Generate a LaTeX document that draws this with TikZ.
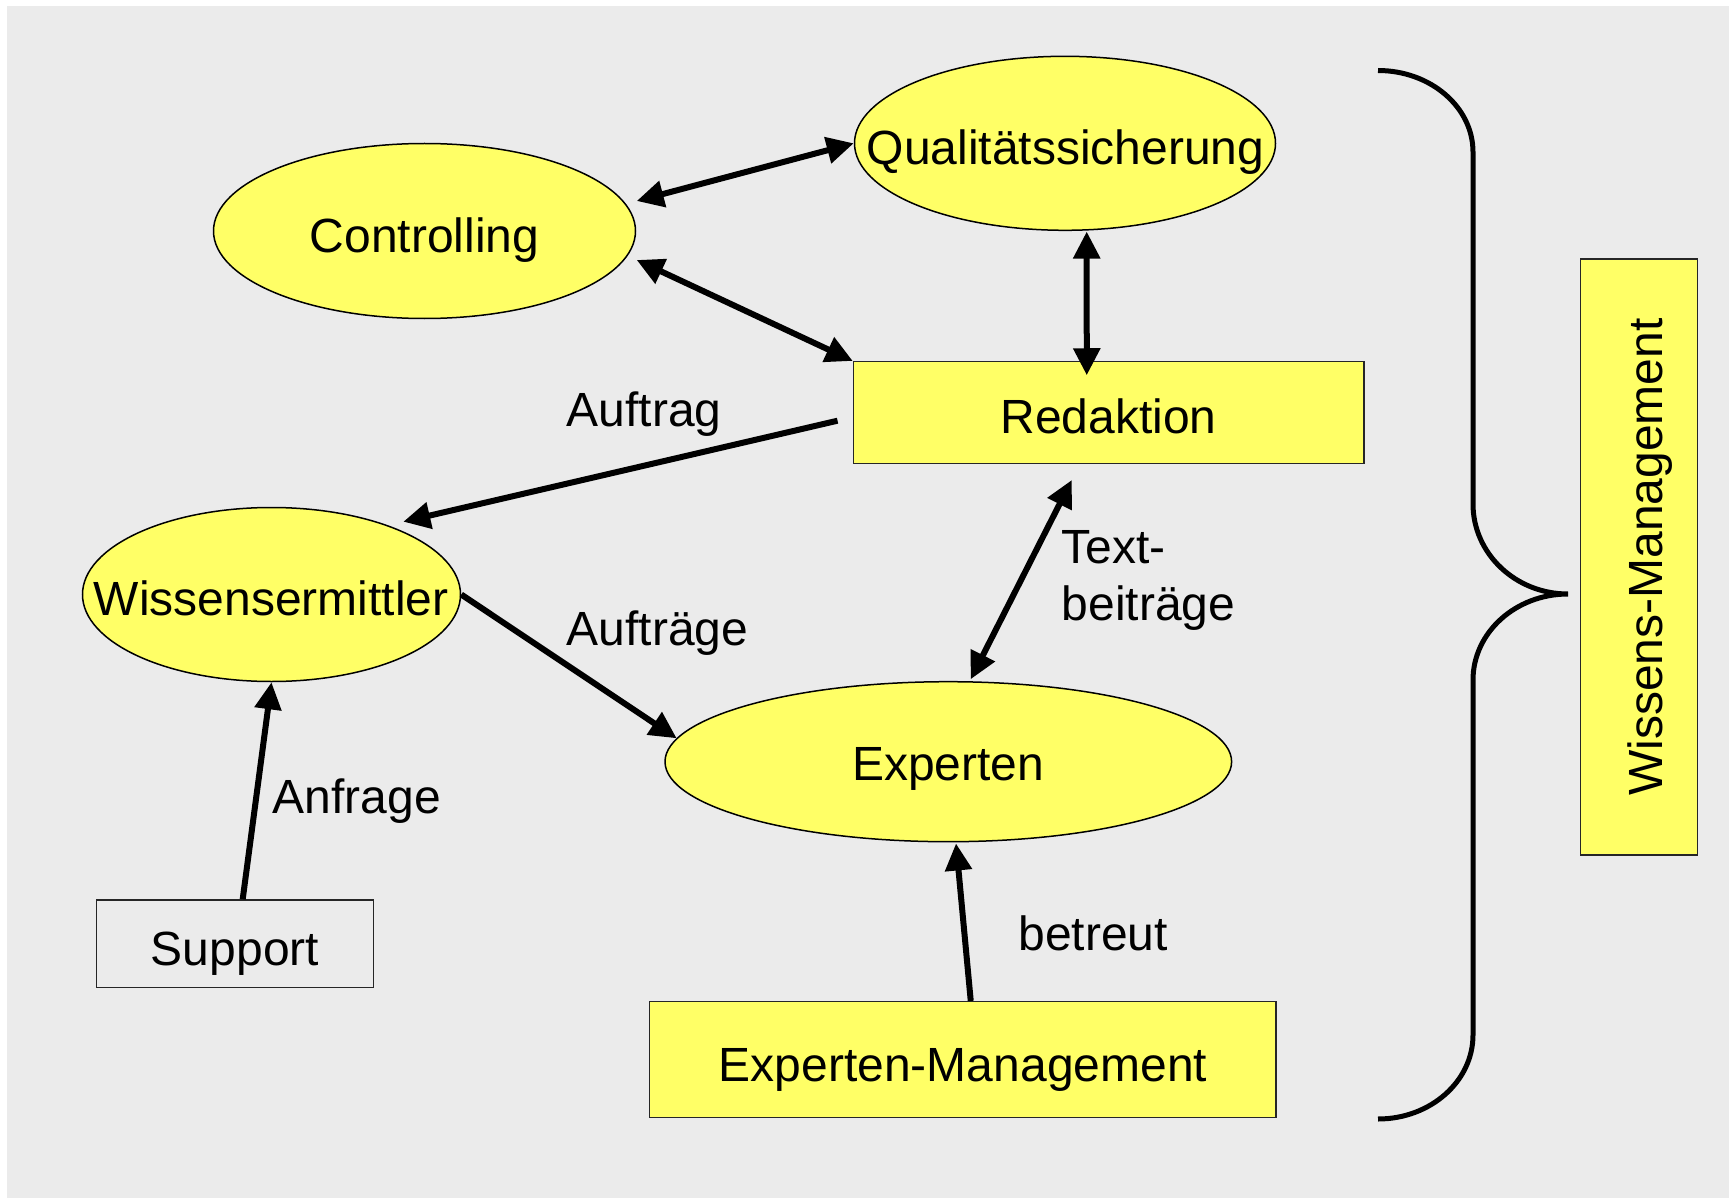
\documentclass[tikz,border=0pt]{standalone}
\usepackage{fontspec}
\setmainfont{Liberation Sans}
\usetikzlibrary{arrows.meta,calc,shapes.geometric}
\definecolor{bgc}{HTML}{EBEBEB}
\definecolor{yel}{HTML}{FFFF66}
\begin{document}
\begin{tikzpicture}[x=1pt,y=-1pt,
  ell/.style={ellipse, draw=black, line width=1.5pt, fill=yel, inner sep=0pt},
  box/.style={rectangle, draw=black!85, line width=1.5pt, fill=yel, inner sep=0pt},
  txt/.style={font=\fontsize{48}{57.7}\selectfont, inner sep=0pt, anchor=base},
  lbl/.style={txt, anchor=base west},
  arr/.style={line width=6pt, -{Triangle[length=27pt,width=26pt]}},
  darr/.style={line width=6pt, {Triangle[length=27pt,width=26pt]}-{Triangle[length=27pt,width=26pt]}},
  bracestyle/.style={line width=5pt}]

\useasboundingbox (0,0) rectangle (1729,1198);
\fill[white] (0,0) rectangle (1729,1198);
\fill[bgc] (7,6) rectangle (1729,1198);

% shapes
\node[ell, minimum width=422pt, minimum height=175pt] (c) at (424.5,231) {};
\node[ell, minimum width=421pt, minimum height=174pt] (q) at (1065,143.3) {};
\node[box, minimum width=510.5pt, minimum height=101.6pt] (r) at (1108.75,412.5) {};
\node[ell, minimum width=378pt, minimum height=174pt] (w) at (271.5,594.5) {};
\node[ell, minimum width=566.6pt, minimum height=160pt] (e) at (948.3,761.7) {};
\node[box, fill=bgc, minimum width=276.6pt, minimum height=87.3pt] (s) at (235,943.6) {};
\node[box, minimum width=626.5pt, minimum height=116pt] (em) at (962.75,1059.7) {};
\node[box, minimum width=117pt, minimum height=596pt] (wm) at (1639.2,557) {};

% texts in shapes
\node[txt] (tc) at (424.5,253) {Controlling};
\node[txt] (tq) at (1065.5,164.5) {Qualitätssicherung};
\node[txt] (tr) at (1108.5,433) {Redaktion};
\node[txt] (tw) at (271.3,615) {Wissensermittler};
\node[txt] (te) at (948.3,780.7) {Experten};
\node[txt] (ts) at (235,965) {Support};
\node[txt] (tem) at (963,1081.7) {Experten-Management};
\node[txt, rotate=90] (twm) at (1662,557) {Wissens-Management};

% connector labels
\node[lbl] (l1) at (566.7,426.7) {Auftrag};
\node[lbl] (l2) at (566.7,645) {Aufträge};
\node[lbl] (l3) at (272.7,813.3) {Anfrage};
\node[lbl] (l4) at (1061.7,563) {Text-};
\node[lbl] (l5) at (1061.7,620.7) {beiträge};
\node[lbl] (l6) at (1018.3,950) {betreut};

% connectors
\draw[darr] ($(c)+(212.2,-30)$) -- (q.west);
\draw[darr] ($(c)+(212.2,29)$) -- (r.north west);
\draw[darr] ($(q.south)+(21.7,0.5)$) -- ($(r.north)+(-22,14.3)$);
\draw[arr] ($(r.west)+(-15.2,8.2)$) -- ($(w)+(131.8,-72.8)$);
\draw[arr] (w.east) -- ($(e)+(-271.6,-23.4)$);
\draw[darr] ($(e.north)+(22.4,-1.7)$) -- ($(r.south)+(-37,16)$);
\draw[arr] ($(s.north)+(7.7,0)$) -- (w.south);
\draw[arr] ($(em.north)+(8,0)$) -- ($(e.south)+(7.7,1)$);

% brace
\draw[bracestyle] (1378,70.5) .. controls (1430.4,70.5) and (1473,107) .. (1473,152)
  -- (1473,504) .. controls (1473,553.7) and (1515.6,594) .. (1568,594)
  .. controls (1515.6,594) and (1473,632.5) .. (1473,680)
  -- (1473,1035) .. controls (1473,1081.4) and (1430.4,1119) .. (1378,1119);
\end{tikzpicture}
\end{document}
